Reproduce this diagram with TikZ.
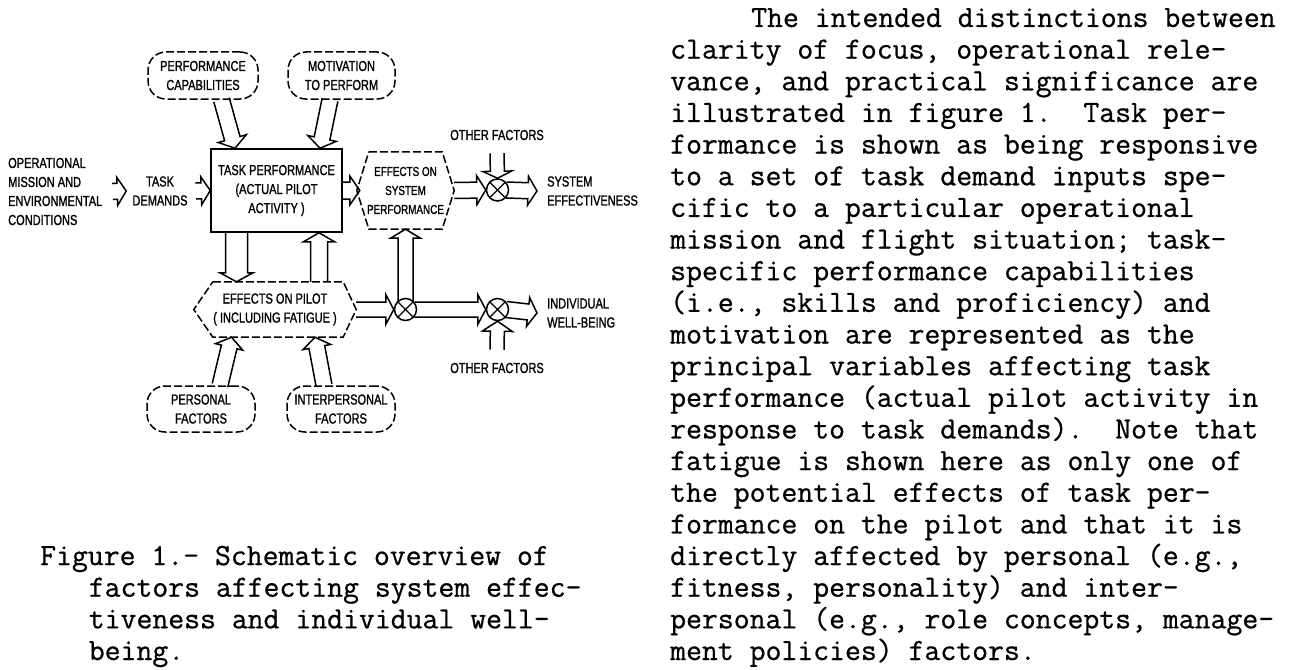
\documentclass[tikz,border=0pt]{standalone}
\usepackage{fontspec}
\usepackage{tikz}
\usetikzlibrary{calc}
\setmonofont{Latin Modern Mono}[FakeBold=0.7]
\newfontfamily\dgmfont{Liberation Sans}[FakeStretch=0.76, FakeBold=1.2]

\newcommand{\blockarrow}[5]{%
  \coordinate (hb) at ($(#2)!#5!(#1)$);
  \draw[arrowline] ($(#1)!#3!90:(#2)$) -- ($(hb)!#3!-90:(#1)$) -- ($(hb)!#4!-90:(#1)$) -- (#2)
    -- ($(hb)!#4!90:(#1)$) -- ($(hb)!#3!90:(#1)$) -- ($(#1)!#3!-90:(#2)$);
}

\begin{document}
\begin{tikzpicture}[x=1pt, y=-1pt,
  every node/.style={inner sep=0pt},
  lbl/.style={font={\dgmfont\fontsize{14.5pt}{19pt}\selectfont}, align=center},
  lblleft/.style={lbl, align=left},
  inbox/.style={lbl, draw, line width=1.5pt, dash pattern=on 8pt off 3pt, rounded corners=18pt},
  taskbox/.style={lbl, draw, line width=1.5pt},
  hexline/.style={line width=1.5pt, dash pattern=on 8pt off 3pt},
  sumjct/.style={circle, draw, line width=1.5pt, minimum size=22pt,
    path picture={\draw[line width=1.2pt] (path picture bounding box.north west) -- (path picture bounding box.south east)
      (path picture bounding box.north east) -- (path picture bounding box.south west);}},
  arrowline/.style={line width=1.5pt, line join=miter},
  body/.style={font={\ttfamily\fontsize{30.86pt}{31.65pt}\selectfont}, anchor=base west}
]
\fill[white] (0,0) rectangle (1295,669);
\useasboundingbox (0,0) rectangle (1295,669);

\node[inbox, minimum width=110pt, minimum height=47pt] (pc) at (203.00,75.50) {PERFORMANCE\\CAPABILITIES};
\node[inbox, minimum width=107pt, minimum height=47pt] (mp) at (341.50,75.50) {MOTIVATION\\TO PERFORM};
\node[taskbox, minimum width=131pt, minimum height=83pt] (tp) at (276.50,190.50) {TASK PERFORMANCE\\(ACTUAL PILOT\\ACTIVITY )};
\node[lbl, font={\dgmfont\fontsize{13pt}{19pt}\selectfont}, minimum width=97pt, minimum height=77pt] (esp) at (405.50,190.50) {EFFECTS ON\\SYSTEM\\PERFORMANCE};
\draw[hexline] ([xshift=12pt]esp.north west) -- ([xshift=-12pt]esp.north east) -- (esp.east)
  -- ([xshift=-12pt]esp.south east) -- ([xshift=12pt]esp.south west) -- (esp.west) -- cycle;
\node[lbl, minimum width=162pt, minimum height=55pt] (ep) at (275.00,309.50) {EFFECTS ON PILOT\\( INCLUDING FATIGUE )};
\draw[hexline] ([xshift=19pt]ep.north west) -- ([xshift=-13pt]ep.north east) -- (ep.east)
  -- ([xshift=-13pt]ep.south east) -- ([xshift=19pt]ep.south west) -- (ep.west) -- cycle;
\node[inbox, minimum width=108pt, minimum height=46pt] (pf) at (201.00,409.00) {PERSONAL\\FACTORS};
\node[inbox, minimum width=108pt, minimum height=46pt] (ipf) at (341.00,409.00) {INTERPERSONAL\\FACTORS};
\node[lblleft, anchor=west] (opm) at (8.00,191.50) {OPERATIONAL\\MISSION AND\\ENVIRONMENTAL\\CONDITIONS};
\node[lbl] (td) at (160.00,191.00) {TASK\\DEMANDS};
\node[sumjct] (c1) at (497.50,190.00) {};
\node[sumjct] (c2) at (405.50,309.50) {};
\node[sumjct] (c3) at (497.50,309.50) {};
\node[lbl] (oft) at (497.00,135.00) {OTHER FACTORS};
\node[lbl] (ofb) at (497.00,368.00) {OTHER FACTORS};
\node[lblleft, anchor=west] (se) at (547.00,191.00) {SYSTEM\\EFFECTIVENESS};
\node[lblleft, anchor=west] (iw) at (547.00,313.00) {INDIVIDUAL\\WELL-BEING};

\coordinate (opm-o) at ([xshift=10pt]opm.east);
\coordinate (td-i) at ([xshift=-6pt]td.west);
\coordinate (td-o) at ([xshift=8pt]td.east);
\coordinate (pc-o) at ([xshift=18.5pt]pc.south);
\coordinate (mp-o) at ([xshift=-11.5pt]mp.south);
\coordinate (tp-i1) at ([xshift=-41.5pt]tp.north);
\coordinate (tp-i2) at ([xshift=43.5pt]tp.north);
\coordinate (tp-o) at ([xshift=-40pt]tp.south);
\coordinate (tp-i3) at ([xshift=42.5pt]tp.south);
\coordinate (esp-i) at ([xshift=3pt]esp.west);
\coordinate (ep-i1) at ([xshift=-38.5pt]ep.north);
\coordinate (ep-o) at ([xshift=44pt]ep.north);
\coordinate (ep-i2) at ([xshift=-43.5pt]ep.south);
\coordinate (ep-i3) at ([xshift=40pt]ep.south);
\coordinate (pf-o) at ([xshift=19pt]pf.north);
\coordinate (ipf-o) at ([xshift=-17pt]ipf.north);
\coordinate (oft-o) at ([yshift=-13pt]oft.south);
\coordinate (ofb-o) at ([yshift=13pt]ofb.north);
\coordinate (c1-o) at ([xshift=-3pt]c1.east);
\coordinate (c2-o1) at ([yshift=-3pt]c2.north);
\coordinate (c2-o2) at ([xshift=-3pt]c2.east);
\coordinate (c3-o) at ([xshift=-3pt]c3.east);
\coordinate (se-i) at ([xshift=-10pt]se.west);
\coordinate (iw-i) at ([xshift=-10pt]iw.west);

\blockarrow{opm-o}{td-i}{8pt}{14pt}{9pt}
\blockarrow{td-o}{tp.west}{8pt}{14pt}{9pt}
\blockarrow{pc-o}{tp-i1}{8pt}{14.5pt}{10pt}
\blockarrow{mp-o}{tp-i2}{8pt}{14.5pt}{10pt}
\blockarrow{tp.east}{esp-i}{8.5pt}{14.5pt}{10pt}
\blockarrow{esp.east}{c1.west}{8pt}{14.5pt}{9pt}
\blockarrow{oft-o}{c1.north}{7pt}{14.5pt}{7pt}
\blockarrow{c1-o}{se-i}{8pt}{14.5pt}{9pt}
\blockarrow{tp-o}{ep-i1}{11pt}{16.5pt}{9pt}
\blockarrow{ep-o}{tp-i3}{8.5pt}{15.5pt}{9pt}
\blockarrow{ep.east}{c2.west}{7.5pt}{15pt}{8pt}
\blockarrow{c2-o1}{esp.south}{7.5pt}{15pt}{9pt}
\blockarrow{c2-o2}{c3.west}{7.5pt}{15pt}{8pt}
\blockarrow{c3-o}{iw-i}{8pt}{14.5pt}{9pt}
\blockarrow{ofb-o}{c3.south}{7pt}{15pt}{10pt}
\blockarrow{pf-o}{ep-i2}{8pt}{14pt}{10pt}
\blockarrow{ipf-o}{ep-i3}{8pt}{14pt}{10pt}

\node[body] (cap1) at (40.00,565.05) {Figure 1.- Schematic overview of};
\node[body] (cap2) at (88.60,596.70) {factors affecting system effec-};
\node[body] (cap3) at (88.60,628.35) {tiveness and individual well-};
\node[body] (cap4) at (88.60,660.00) {being.};

\node[body] (r1) at (751.00,27.00) {The intended distinctions between};
\node[body] (r2) at (670.00,58.65) {clarity of focus, operational rele-};
\node[body] (r3) at (670.00,90.30) {vance, and practical significance are};
\node[body] (r4) at (670.00,121.95) {illustrated in figure 1.~~Task per-};
\node[body] (r5) at (670.00,153.60) {formance is shown as being responsive};
\node[body] (r6) at (670.00,185.25) {to a set of task demand inputs spe-};
\node[body] (r7) at (670.00,216.90) {cific to a particular operational};
\node[body] (r8) at (670.00,248.55) {mission and flight situation; task-};
\node[body] (r9) at (670.00,280.20) {specific performance capabilities};
\node[body] (r10) at (670.00,311.85) {(i.e., skills and proficiency) and};
\node[body] (r11) at (670.00,343.50) {motivation are represented as the};
\node[body] (r12) at (670.00,375.15) {principal variables affecting task};
\node[body] (r13) at (670.00,406.80) {performance (actual pilot activity in};
\node[body] (r14) at (670.00,438.45) {response to task demands).~~Note that};
\node[body] (r15) at (670.00,470.10) {fatigue is shown here as only one of};
\node[body] (r16) at (670.00,501.75) {the potential effects of task per-};
\node[body] (r17) at (670.00,533.40) {formance on the pilot and that it is};
\node[body] (r18) at (670.00,565.05) {directly affected by personal (e.g.,};
\node[body] (r19) at (670.00,596.70) {fitness, personality) and inter-};
\node[body] (r20) at (670.00,628.35) {personal (e.g., role concepts, manage-};
\node[body] (r21) at (670.00,660.00) {ment policies) factors.};
\end{tikzpicture}
\end{document}
